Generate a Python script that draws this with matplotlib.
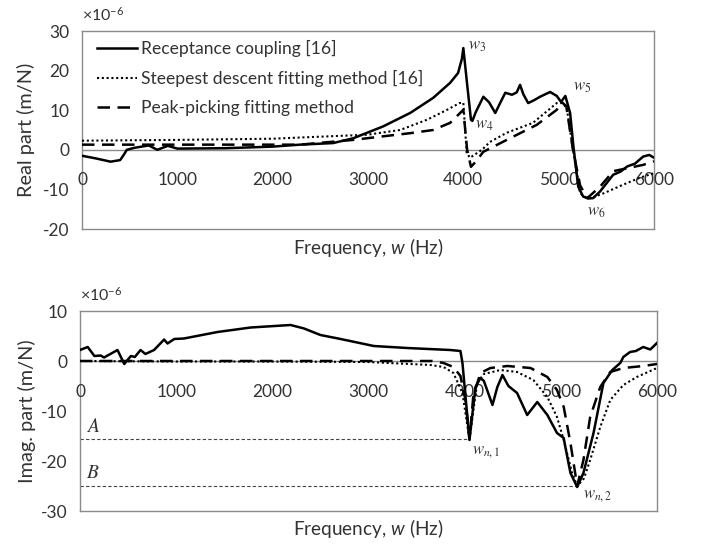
import matplotlib
matplotlib.use("Agg")
import matplotlib.pyplot as plt
from matplotlib.lines import Line2D

plt.rcParams['font.family'] = ['Lato', 'DejaVu Sans']
plt.rcParams['mathtext.fontset'] = 'custom'
plt.rcParams['mathtext.rm'] = 'Lato'
plt.rcParams['mathtext.it'] = 'Lato:italic'

TXT = '#333333'
GRAY = '#8a8a8a'

# ---------------- data: real part ----------------
re_rc_f = [0, 150, 300, 400, 440, 470, 550, 700, 790, 900, 1000, 1500, 2000, 2287, 2634, 2844,
           3158, 3442, 3683, 3861, 3945, 3985, 4000, 4040, 4080, 4095, 4130, 4210, 4270, 4335,
           4390, 4440, 4510, 4560, 4595, 4630, 4680, 4740, 4805, 4910, 4980, 5025, 5070, 5120,
           5155, 5205, 5257, 5310, 5362, 5435, 5572, 5650, 5719, 5800, 5887, 5950, 6000]
re_rc_v = [-1.5, -2.2, -3.0, -2.6, -1.2, 0.0, 0.5, 1.1, 0.0, 1.0, 0.3, 0.4, 0.8, 1.3, 1.7, 2.9,
           5.9, 9.3, 13.1, 16.9, 19.4, 23.0, 25.7, 16.5, 7.6, 7.3, 9.5, 13.4, 12.0, 9.3,
           12.0, 14.4, 13.9, 14.5, 16.4, 14.0, 11.8, 12.5, 13.4, 14.6, 13.6, 12.1, 13.6, 9.3,
           0.8, -9.3, -11.8, -12.3, -12.2, -10.5, -6.3, -5.5, -4.2, -3.5, -1.7, -1.3, -2.0]

re_sd_f = [0, 1000, 2000, 2287, 2990, 3337, 3620, 3830, 3960, 4000, 4035, 4070, 4195, 4280,
           4455, 4730, 4980, 5040, 5085, 5150, 5225, 5300, 5360, 5470, 5677, 5857, 6000]
re_sd_v = [2.3, 2.5, 2.8, 3.1, 3.8, 5.0, 7.6, 10.1, 11.8, 11.9, -0.8, -2.0, 0.0, 2.0,
           4.3, 6.8, 11.8, 11.8, 10.5, 0.0, -11.0, -12.3, -12.0, -11.0, -8.8, -7.0, -5.9]

re_pp_f = [0, 1000, 2000, 2287, 2844, 3158, 3442, 3683, 3861, 4000, 4040, 4080, 4130, 4210,
           4455, 4770, 4980, 5030, 5080, 5150, 5225, 5300, 5435, 5572, 5887, 6000]
re_pp_v = [1.3, 1.3, 1.3, 1.3, 2.5, 3.4, 4.2, 5.0, 6.8, 10.1, 0.0, -4.3, -3.0, -0.5,
           2.5, 6.3, 10.1, 12.1, 11.0, 0.0, -9.0, -12.2, -9.3, -5.4, -3.8, -2.9]

# ---------------- data: imaginary part ----------------
im_rc_f = [0, 80, 150, 215, 250, 390, 460, 530, 570, 630, 680, 770, 875, 910, 980, 1080, 1430,
           1775, 2190, 2330, 2500, 2710, 3055, 3400, 3850, 3956, 3977, 4050, 4112, 4164, 4200,
           4289, 4340, 4393, 4455, 4545, 4650, 4755, 4860, 4960, 5030, 5045, 5100, 5170, 5235,
           5340, 5443, 5535, 5618, 5650, 5720, 5780, 5857, 5930, 6000]
im_rc_v = [2.2, 2.8, 1.0, 1.1, 0.7, 2.2, -0.6, 1.0, 0.8, 2.2, 1.4, 2.2, 4.3, 3.5, 4.4, 4.5, 5.8,
           6.7, 7.2, 6.5, 5.2, 4.4, 3.0, 2.6, 2.2, 2.0, -0.4, -15.8, -5.2, -3.4, -4.0,
           -8.8, -5.2, -2.8, -5.0, -6.4, -10.8, -8.2, -10.8, -14.4, -15.4, -17.0, -22.4, -25.2, -22.4,
           -14.4, -4.4, -1.8, -0.4, 0.8, 1.8, 2.0, 2.8, 2.3, 3.6]

im_sd_f = [0, 1000, 2000, 3000, 3645, 3780, 3883, 3977, 4050, 4091, 4130, 4200, 4372, 4545,
           4714, 4860, 4960, 5030, 5117, 5170, 5240, 5305, 5410, 5514, 5650, 5790, 6000]
im_sd_v = [0.0, -0.1, -0.1, -0.2, -0.8, -1.2, -2.4, -6.4, -15.8, -9.8, -4.4, -2.6, -1.8, -2.2,
           -3.8, -7.2, -11.2, -15.8, -22.4, -25.0, -23.5, -19.8, -13.2, -7.8, -4.8, -3.2, -1.4]

im_pp_f = [0, 1000, 2000, 3000, 3665, 3780, 3883, 3956, 4008, 4050, 4090, 4164, 4268, 4445,
           4685, 4860, 4960, 5030, 5100, 5170, 5235, 5305, 5410, 5514, 5650, 5857, 6000]
im_pp_v = [0.0, 0.0, 0.0, 0.0, 0.0, -0.4, -1.2, -3.0, -7.8, -15.6, -7.0, -2.4, -1.4, -1.0,
           -1.4, -3.2, -5.8, -9.2, -16.4, -25.0, -19.8, -11.2, -5.2, -2.2, -1.4, -1.0, -0.6]

labels = ['Receptance coupling [16]', 'Steepest descent fitting method [16]',
          'Peak-picking fitting method']
x_ticks = [0, 1000, 2000, 3000, 4000, 5000, 6000]
re_yticks = [-20, -10, 0, 10, 20, 30]
im_yticks = [-30, -20, -10, 0, 10]

# annotation labels (text, x, y)
re_marks = [(r'$w_3$', 4050, 26.2), (r'$w_4$', 4120, 6.2), (r'$w_5$', 5150, 15.8),
            (r'$w_6$', 5300, -15.8)]
im_marks = [(r'$w_{n,1}$', 4080, -18.3), (r'$w_{n,2}$', 5230, -27.0)]
ref_levels = [('A', -15.5, 4050), ('B', -25.0, 5170)]

styles = [dict(color='black', lw=1.8, ls='-'),
          dict(color='black', lw=1.5, ls=(0, (1, 1.3))),
          dict(color='black', lw=1.8, ls=(0, (5, 3)))]

fig = plt.figure(figsize=(7.03, 5.45), dpi=100)
ax1 = fig.add_axes([82/703, 1-229/545, 572/703, 198/545])
ax2 = fig.add_axes([80/703, 1-511/545, 577/703, 200/545])


def style_axes(ax, yticks, ylabel, ylab_x, xlab_y):
    ax.set_xlim(0, 6000)
    ax.set_ylim(yticks[0], yticks[-1])
    ax.set_yticks(yticks)
    ax.set_yticklabels([str(t) for t in yticks])
    ax.set_xticks(x_ticks)
    ax.set_xticklabels([])
    ax.tick_params(length=0, labelsize=12.5, colors=TXT, pad=9)
    for s in ax.spines.values():
        s.set_color(GRAY)
        s.set_linewidth(1.0)
    ax.axhline(0, color=GRAY, lw=1.0, zorder=1)
    for t in x_ticks:
        ax.annotate(str(t), xy=(t, 0), xytext=(0, -22), textcoords='offset points',
                    ha='center', va='center', fontsize=12.5, color=TXT)
    ax.set_ylabel(ylabel, fontsize=14.3, color=TXT, va='center')
    ax.yaxis.set_label_coords(ylab_x, 0.5)
    ax.set_xlabel('Frequency, $\\mathit{w}$ (Hz)', fontsize=13.7, color=TXT, va='center')
    ax.xaxis.set_label_coords(0.5, xlab_y)
    ax.text(0.0, 1.08, '×10$^{-6}$', transform=ax.transAxes, fontsize=11.5,
            color=TXT, ha='left', va='center')


style_axes(ax1, re_yticks, 'Real part (m/N)', -0.098, -0.095)
style_axes(ax2, im_yticks, 'Imag. part (m/N)', -0.092, -0.085)

for f, v, st in zip([re_rc_f, re_sd_f, re_pp_f], [re_rc_v, re_sd_v, re_pp_v], styles):
    ax1.plot(f, v, **st, zorder=3)
for f, v, st in zip([im_rc_f, im_sd_f, im_pp_f], [im_rc_v, im_sd_v, im_pp_v], styles):
    ax2.plot(f, v, **st, zorder=3)

for txt, x, y in re_marks:
    ax1.text(x, y, txt, math_fontfamily='stix', fontsize=12, color=TXT, ha='left', va='center')
for txt, x, y in im_marks:
    ax2.text(x, y, txt, math_fontfamily='stix', fontsize=12, color=TXT, ha='left', va='center')

for name, lvl, xend in ref_levels:
    ax2.plot([0, xend], [lvl, lvl], color='#444444', lw=0.8, ls=(0, (3, 2)), zorder=2)
    ax2.text(60, lvl + 2.6, '$' + name + '$', math_fontfamily='stix', fontsize=14,
             color=TXT, ha='left', va='center')

handles = [Line2D([], [], **st) for st in styles]
ax1.legend(handles, labels, loc='upper left', bbox_to_anchor=(0.026, 0.955), frameon=False,
           fontsize=12.6, handlelength=2.3, handletextpad=0.25, labelspacing=0.75,
           borderaxespad=0.0, borderpad=0.0, labelcolor=TXT)

fig.savefig('out.png', dpi=100)
